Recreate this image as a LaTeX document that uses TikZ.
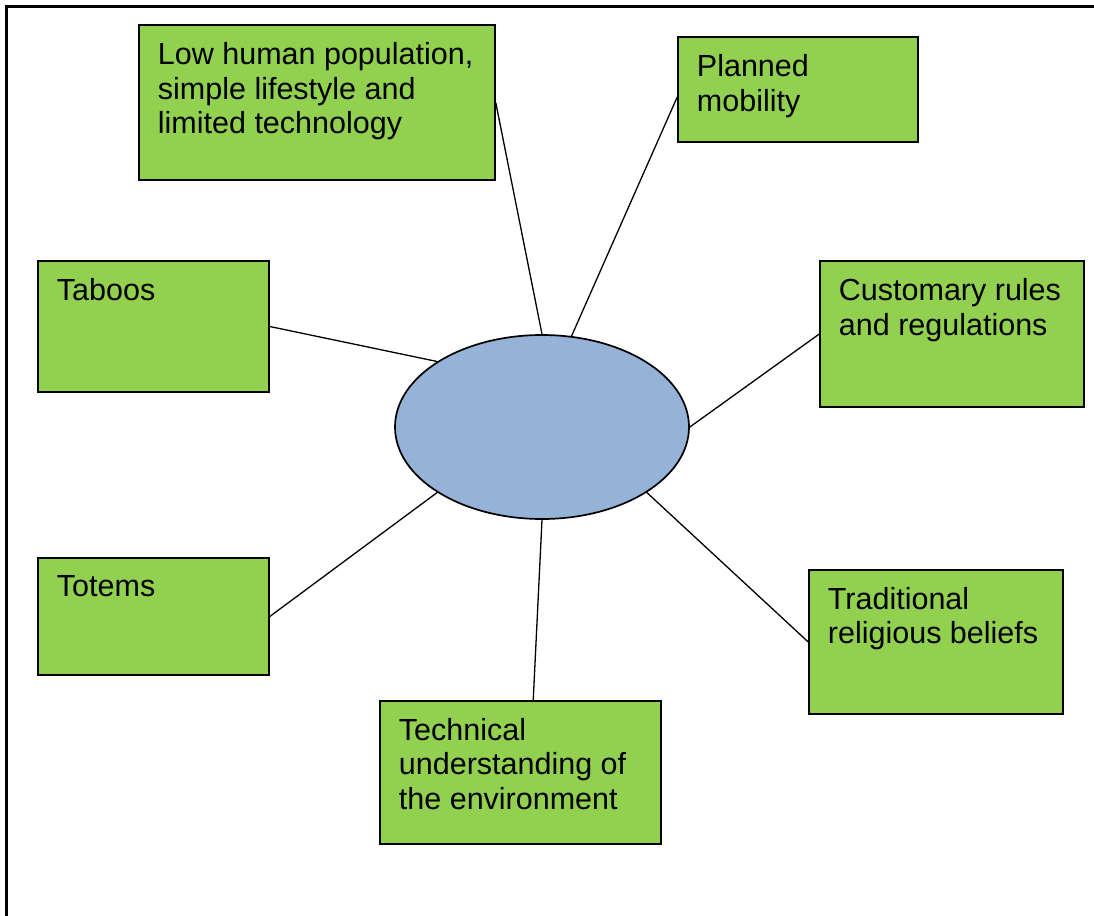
\documentclass[tikz,border=0pt]{standalone}
\usepackage{fontspec}
\setmainfont{Liberation Sans}
\usetikzlibrary{shapes.geometric,calc}
\definecolor{boxgreen}{HTML}{92D050}
\definecolor{ellblue}{HTML}{95B3D7}
\begin{document}
\begin{tikzpicture}[x=1pt,y=-1pt,
  greenbox/.style={draw=black,line width=1.5pt,fill=boxgreen,rectangle,inner sep=0pt,anchor=center},
  boxtext/.style={anchor=north west,inner sep=0pt,align=left,font=\fontsize{30.5}{34.5}\selectfont},
  link/.style={draw=black,line width=1.3pt}]
\useasboundingbox (0,0) rectangle (1094,915);
\fill[white] (0,0) rectangle (1094,915);
% page frame
\draw[line width=2.4pt,black] (6.5,930) -- (6.5,6.5) -- (1110,6.5);
% centre ellipse
\node[ellipse,draw=black,line width=1.7pt,fill=ellblue,minimum width=294pt,minimum height=184pt,inner sep=0pt] (e) at (542,427) {};
% boxes
\node[greenbox,minimum width=356pt,minimum height=155pt] (low) at (317,102.5) {};
\node[greenbox,minimum width=240pt,minimum height=105pt] (plan) at (798,89.5) {};
\node[greenbox,minimum width=231pt,minimum height=131pt] (taboo) at (153.5,326.5) {};
\node[greenbox,minimum width=264pt,minimum height=146pt] (cust) at (952,334) {};
\node[greenbox,minimum width=231pt,minimum height=117pt] (totem) at (153.5,616.5) {};
\node[greenbox,minimum width=281pt,minimum height=143pt] (tech) at (520.5,772.5) {};
\node[greenbox,minimum width=254pt,minimum height=144pt] (trad) at (936,642) {};
% texts
\node[boxtext] (lowt) at ($(low.north west)+(19.5,18)$) {Low human population,\\simple lifestyle and\\limited technology};
\node[boxtext] (plant) at ($(plan.north west)+(19.5,18)$) {Planned\\mobility};
\node[boxtext] (taboot) at ($(taboo.north west)+(19.5,18)$) {Taboos};
\node[boxtext] (custt) at ($(cust.north west)+(19.5,18)$) {Customary rules\\and regulations};
\node[boxtext] (totemt) at ($(totem.north west)+(19.5,18)$) {Totems};
\node[boxtext] (techt) at ($(tech.north west)+(19.5,17.5)$) {Technical\\understanding of\\the environment};
\node[boxtext] (tradt) at ($(trad.north west)+(19.5,17.5)$) {Traditional\\religious beliefs};
% connectors
\draw[link] (low.east) -- (e.north);
\draw[link] ($(plan.north west)!0.57!(plan.south west)$) -- (e.72.8);
\draw[link] (taboo.east) -- (e.148);
\draw[link] (cust.west) -- (e.east);
\draw[link] (totem.east) -- (e.212);
\draw[link] ($(tech.north west)!0.545!(tech.north east)$) -- (e.south);
\draw[link] (trad.west) -- (e.328);
\end{tikzpicture}
\end{document}
